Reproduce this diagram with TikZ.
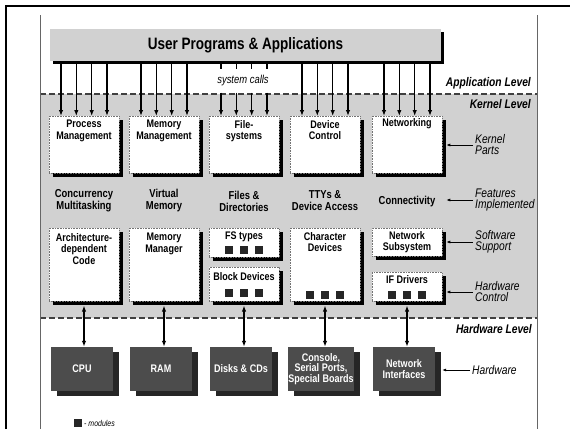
\documentclass[tikz,border=0pt]{standalone}
\usepackage{fontspec}
\newfontfamily\cond[FakeStretch=0.82]{Liberation Sans}
\usetikzlibrary{positioning,
                calc,
                shadows,
                arrows.meta}

\begin{document}
\begin{tikzpicture}[x=1pt,y=-1pt,>={Latex[length=6pt,width=4.5pt]}]
                % define styles
\tikzset{part/.style={rectangle,
                       fill=white,
                       draw=black!55,
                       densely dotted,
                       line width=0.6pt,
                       minimum width=70pt,
                       inner sep=0,
                       anchor=north,
                       drop shadow={shadow xshift=4pt,shadow yshift=-4pt,fill=black,opacity=1},
                       },
         parttext/.style={align=center,
                       inner sep=0,
                       font=\cond\bfseries\fontsize{11}{11.5}\selectfont,
                       },
         feat/.style={align=center,
                       inner sep=0,
                       font=\cond\bfseries\fontsize{11.5}{12}\selectfont,
                       },
         hw/.style={rectangle,
                       fill=black!70,
                       text=white,
                       minimum width=62pt,
                       minimum height=44pt,
                       inner sep=0,
                       align=center,
                       font=\cond\bfseries\fontsize{11}{10.5}\selectfont,
                       drop shadow={shadow xshift=6pt,shadow yshift=-5pt,fill=black!85,opacity=1},
                       },
         mod/.style={rectangle,
                       fill=black!85,
                       inner sep=0,
                       minimum size=8pt,
                       },
         level/.style={anchor=east,
                       inner sep=0,
                       font=\cond\bfseries\itshape\fontsize{12.5}{12.5}\selectfont,
                       },
         side/.style={anchor=west,
                       align=left,
                       inner sep=0,
                       font=\cond\itshape\fontsize{12.5}{11}\selectfont,
                       },
         sysarrow/.style={->, line width=1.3pt},
         sysline/.style={line width=1.3pt},
         ioarrow/.style={<->, line width=1.6pt},
         sidearrow/.style={-{Latex[length=4pt,width=3pt]}, line width=0.7pt}
}

\useasboundingbox (0,0) rectangle (570,429);

% kernel band
\fill[black!18] (40,94) rectangle (537,318);
\draw[black!75,line width=1.4pt,dash pattern=on 6pt off 3pt] (40,94) -- (537,94);
\draw[black!75,line width=1.4pt,dash pattern=on 6pt off 3pt] (40,318) -- (537,318);

% frames
\draw[line width=2.2pt] (6,429) -- (6,6) -- (570,6);
\draw[black!60,line width=0.8pt] (40,15) -- (40,429);
\draw[black!60,line width=0.8pt] (537,15) -- (537,429);

% user space
\node[rectangle,fill=black!18,inner sep=0,minimum width=391pt,minimum height=32pt,
      font=\cond\bfseries\fontsize{16.5}{18}\selectfont,
      drop shadow={shadow xshift=3pt,shadow yshift=-3pt,fill=black,opacity=1}]
      (user) at (245.5,45) {User Programs \& Applications};
\node[inner xsep=1pt,inner ysep=6pt,font=\cond\itshape\fontsize{11.5}{12}\selectfont]
      (calls) at (243,81) {system calls};

% levels
\node[level] (applvl) at (531,83)  {Application Level};
\node[level] (kernlvl) at (531,104) {Kernel Level};
\node[level] (hwlvl)  at (532,329) {Hardware Level};

% kernel parts
\node[part,minimum height=57pt] (pm) at (84,116)  {};
\node[part,minimum height=57pt] (mm) at (164,116) {};
\node[part,minimum height=57pt] (fs) at (244,116) {};
\node[part,minimum height=57pt] (dc) at (325,116) {};
\node[part,minimum height=57pt] (nw) at (407,116) {};

\node[parttext,below=4pt] (pm-t) at (pm.north) {Process\\Management};
\node[parttext,below=4pt] (mm-t) at (mm.north) {Memory\\Management};
\node[parttext,below=4pt] (fs-t) at (fs.north) {File-\\systems};
\node[parttext,below=4pt] (dc-t) at (dc.north) {Device\\Control};
\node[parttext,below=2pt] (nw-t) at (nw.north) {Networking};

% features
\node[feat] (pm-f) at (84,201)  {Concurrency\\Multitasking};
\node[feat] (mm-f) at (164,201) {Virtual\\Memory};
\node[feat] (fs-f) at (244,201) {Files \&\\Directories};
\node[feat] (dc-f) at (325,201) {TTYs \&\\Device Access};
\node[feat] (nw-f) at (407,202) {Connectivity};

% software support
\node[part,minimum height=73pt] (arch) at (84,228)  {};
\node[part,minimum height=73pt] (mman) at (164,228) {};
\node[part,minimum height=29pt] (fst)  at (244,228) {};
\node[part,minimum height=34pt] (blk)  at (244,267) {};
\node[part,minimum height=73pt] (chr)  at (325,228) {};
\node[part,minimum height=28pt] (nsub) at (407,228) {};
\node[part,minimum height=29pt] (ifd)  at (407,272) {};

\node[parttext,below=5pt] (arch-t) at (arch.north) {Architecture-\\dependent\\Code};
\node[parttext,below=5pt] (mman-t) at (mman.north) {Memory\\Manager};
\node[parttext,below=4pt] (fst-t)  at (fst.north)  {FS types};
\node[parttext,below=5pt] (blk-t)  at (blk.north)  {Block Devices};
\node[parttext,below=4pt] (chr-t)  at (chr.north)  {Character\\Devices};
\node[parttext,below=3pt] (nsub-t) at (nsub.north) {Network\\Subsystem};
\node[parttext,below=3pt] (ifd-t)  at (ifd.north)  {IF Drivers};

% modules
\foreach \dx [count=\i] in {-15,0,15}{
    \node[mod] (fst-m\i) at ($(fst.north)+(\dx,22)$) {};
    \node[mod] (blk-m\i) at ($(blk.north)+(\dx,26)$) {};
    \node[mod] (chr-m\i) at ($(chr.north)+(\dx,67)$) {};
    \node[mod] (ifd-m\i) at ($(ifd.north)+(\dx,23)$) {};
}

% hardware
\node[hw] (cpu)  at (82,369)  {CPU};
\node[hw] (ram)  at (161,369) {RAM};
\node[hw] (disk) at (241,369) {Disks \& CDs};
\node[hw] (cons) at (321,369) {Console,\\Serial Ports,\\Special Boards};
\node[hw] (nif)  at (404,369) {Network\\Interfaces};

% system calls
\foreach \kp in {pm,mm,dc,nw}
    \foreach \dx in {-23,-7.7,7.7,23}
        \draw[sysarrow] ([xshift=\dx pt]\kp.north |- user.south) -- ([xshift=\dx pt]\kp.north);
\foreach \dx in {-23,-7.7,7.7,23}{
    \draw[sysline]  ([xshift=\dx pt]fs.north |- user.south) -- ([xshift=\dx pt]fs.north |- calls.north);
    \draw[sysarrow] ([xshift=\dx pt]fs.north |- calls.south) -- ([xshift=\dx pt]fs.north);
}

% hardware access
\draw[ioarrow] ([yshift=-4pt]arch.south) -- (arch.south |- cpu.north);
\draw[ioarrow] ([yshift=-4pt]mman.south) -- (mman.south |- ram.north);
\draw[ioarrow] ([yshift=-4pt]blk.south)  -- (blk.south |- disk.north);
\draw[ioarrow] ([yshift=-4pt]chr.south)  -- (chr.south |- cons.north);
\draw[ioarrow] ([yshift=-4pt]ifd.south)  -- (ifd.south |- nif.north);

% side labels
\node[side] (kparts) at (475,145) {Kernel\\Parts};
\node[side] (fimpl)  at (475,200) {Features\\Implemented};
\node[side] (ssup)   at (475,242) {Software\\Support};
\node[side] (hctrl)  at (475,292) {Hardware\\Control};
\node[side] (hwlbl)  at (472,370) {Hardware};

\draw[sidearrow] ([xshift=-2pt]kparts.west) -- ([xshift=4pt]nw.east |- kparts.west);
\draw[sidearrow] ([xshift=-2pt]fimpl.west)  -- ([xshift=4pt]nw.east |- fimpl.west);
\draw[sidearrow] ([xshift=-2pt]ssup.west)   -- ([xshift=4pt]nsub.east |- ssup.west);
\draw[sidearrow] ([xshift=-2pt]hctrl.west)  -- ([xshift=4pt]ifd.east |- hctrl.west);
\draw[sidearrow] ([xshift=-2pt]hwlbl.west)  -- ([xshift=7pt]nif.east |- hwlbl.west);

% legend
\node[mod] (legmod) at (78,423) {};
\node[anchor=west,inner sep=0,font=\cond\itshape\fontsize{8.5}{8.5}\selectfont] (legtxt) at (84,423.5) {- modules};

\end{tikzpicture}
\end{document}
